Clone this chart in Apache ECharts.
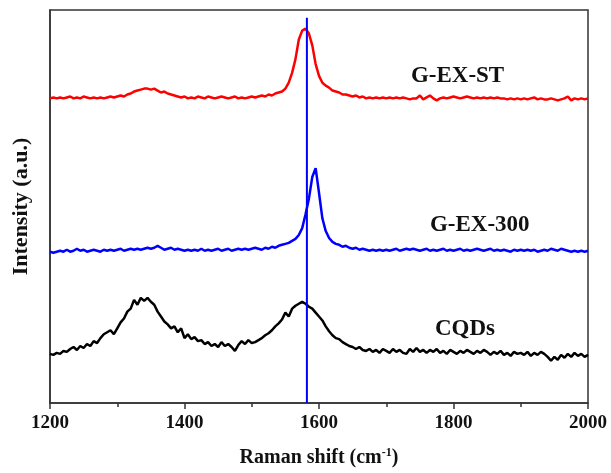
<!DOCTYPE html>
<html>
<head>
<meta charset="utf-8">
<script src="https://cdn.jsdelivr.net/npm/echarts@6/dist/echarts.min.js"></script>
<style>html,body{margin:0;padding:0;background:#fff;}#c{width:611px;height:473px;}</style>
</head>
<body>
<div id="c"></div>
<script>
const shift = [1200,1205,1210,1215,1220,1225,1230,1235,1240,1245,1250,1255,1260,1265,1270,1275,1280,1285,1290,1295,
1300,1305,1310,1315,1320,1325,1330,1335,1340,1345,1350,1355,1360,1365,1370,1375,1380,1385,1390,1395,
1400,1405,1410,1415,1420,1425,1430,1435,1440,1445,1450,1455,1460,1465,1470,1475,1480,1485,1490,1495,
1500,1505,1510,1515,1520,1525,1530,1535,1540,1545,1550,1555,1560,1565,1570,1575,1580,1585,1590,1595,
1600,1605,1610,1615,1620,1625,1630,1635,1640,1645,1650,1655,1660,1665,1670,1675,1680,1685,1690,1695,
1700,1705,1710,1715,1720,1725,1730,1735,1740,1745,1750,1755,1760,1765,1770,1775,1780,1785,1790,1795,
1800,1805,1810,1815,1820,1825,1830,1835,1840,1845,1850,1855,1860,1865,1870,1875,1880,1885,1890,1895,
1900,1905,1910,1915,1920,1925,1930,1935,1940,1945,1950,1955,1960,1965,1970,1975,1980,1985,1990,1995,2000];

// G-EX-ST (red)
const gexst = [310,311,310,311,310,311,312,310,311,310,312,311,310,311,310,311,310,311,312,311,
312,313,312,314,315,317,318,319,320,320,319,320,318,316,317,315,314,313,312,311,
312,310,311,310,312,311,310,312,311,310,311,312,311,310,311,312,310,311,310,311,
312,311,312,313,312,314,313,315,316,317,320,326,336,350,370,379,381,376,364,345,
333,326,323,321,318,317,316,314,314,313,312,313,311,312,310,311,310,311,310,311,
310,311,310,311,310,311,310,309,310,310,313,309,311,313,310,308,310,311,310,311,
312,311,310,311,312,311,310,311,310,311,310,311,310,311,310,310,309,310,309,310,
309,310,309,310,311,309,310,309,309,310,309,308,309,310,312,308,310,309,310,309,310];

// G-EX-300 (blue)
const gex300 = [154,153,154,155,154,156,154,155,157,155,156,154,155,156,155,154,156,155,156,155,
156,157,155,156,157,156,157,156,157,158,157,158,160,158,156,157,158,156,157,156,
155,156,155,156,155,157,155,156,155,156,157,155,156,157,155,156,157,156,157,156,
157,158,157,156,158,157,159,158,160,161,162,163,165,167,171,178,192,208,230,239,
214,188,175,168,164,162,161,159,160,158,157,158,156,157,156,155,156,155,156,155,
156,155,156,157,155,156,157,156,157,156,155,156,157,155,156,155,156,157,155,156,
155,156,157,155,156,155,156,157,156,155,156,157,155,156,155,156,155,154,156,155,
156,155,156,155,156,154,155,156,155,157,156,155,157,156,155,154,155,154,155,154,155];

// CQDs (black)
const cqds = [50,49,51,50,53,52,55,57,54,58,56,60,58,63,61,66,70,72,74,70,
76,82,86,93,96,105,100,107,104,107,103,100,93,88,83,80,76,78,72,76,
66,70,65,67,63,64,60,62,58,60,57,62,58,60,57,53,59,63,60,64,
61,62,64,66,69,71,74,78,81,85,92,88,96,99,101,103,101,98,96,92,
88,84,78,73,69,66,65,62,60,58,57,55,57,54,53,55,52,54,51,55,
53,51,55,52,54,51,50,55,52,56,52,54,51,54,52,55,51,53,50,54,
52,50,53,51,54,52,50,53,51,54,52,49,52,50,53,49,51,48,52,50,
51,49,52,48,51,49,52,50,47,43,47,44,49,46,50,47,51,48,50,47,49];

const refLine = [[1582, 0], [1582, 392]];
const labelNames = ['G-EX-ST', 'G-EX-300', 'CQDs'];
const labelAt = [[1806, 333], [1839, 181], [1817, 75]];

const font = '"Liberation Serif","Times New Roman",serif';
const pair = arr => shift.map((x, i) => [x, arr[i]]);

const chart = echarts.init(document.getElementById('c'), null, {renderer: 'canvas'});
chart.setOption({
  animation: false,
  backgroundColor: '#ffffff',
  grid: {left: 50, right: 23, top: 10, bottom: 63, show: true, borderColor: '#333', borderWidth: 1.5, backgroundColor: 'transparent'},
  xAxis: {
    type: 'value', min: 1200, max: 2000, interval: 200,
    axisLine: {show: true, lineStyle: {color: '#333', width: 1.5}},
    axisTick: {show: true, inside: false, length: 6, lineStyle: {color: '#333', width: 1.5}},
    minorTick: {show: true, splitNumber: 2, length: 4, lineStyle: {color: '#333', width: 1.5}},
    splitLine: {show: false},
    axisLabel: {fontFamily: font, fontWeight: 'bold', fontSize: 19, color: '#111', margin: 11, formatter: v => String(v)},
    name: '{a|Raman shift (cm}{s|-1}{a|)}',
    nameLocation: 'middle', nameGap: 44,
    nameTextStyle: {
      rich: {
        a: {fontFamily: font, fontWeight: 'bold', fontSize: 20, color: '#111'},
        s: {fontFamily: font, fontWeight: 'bold', fontSize: 12, color: '#111', verticalAlign: 'top', padding: [0, 0, 10, 0]}
      }
    }
  },
  yAxis: {
    type: 'value', min: 0, max: 400,
    axisLine: {show: true, lineStyle: {color: '#333', width: 1.5}},
    axisTick: {show: false}, axisLabel: {show: false}, splitLine: {show: false},
    name: 'Intensity (a.u.)', nameLocation: 'middle', nameGap: 18,
    nameTextStyle: {fontFamily: font, fontWeight: 'bold', fontSize: 22, color: '#111'}
  },
  series: [
    {name: 'G-EX-ST', type: 'line', data: pair(gexst), showSymbol: false, lineStyle: {color: '#ff0000', width: 2.5}},
    {name: 'G-EX-300', type: 'line', data: pair(gex300), showSymbol: false, lineStyle: {color: '#0000ff', width: 2.5}},
    {name: 'CQDs', type: 'line', data: pair(cqds), showSymbol: false, lineStyle: {color: '#000000', width: 2.5}},
    {name: 'ref', type: 'line', data: refLine, showSymbol: false, lineStyle: {color: '#0000ff', width: 2}},
    {
      name: 'labels', type: 'scatter', symbolSize: 0, itemStyle: {opacity: 1},
      data: labelAt.map((p, i) => ({value: p, name: labelNames[i]})),
      label: {show: true, position: 'inside', formatter: p => p.name,
        fontFamily: font, fontWeight: 'bold', fontSize: 23, color: '#111', opacity: 1}
    }
  ]
});
</script>
</body>
</html>
